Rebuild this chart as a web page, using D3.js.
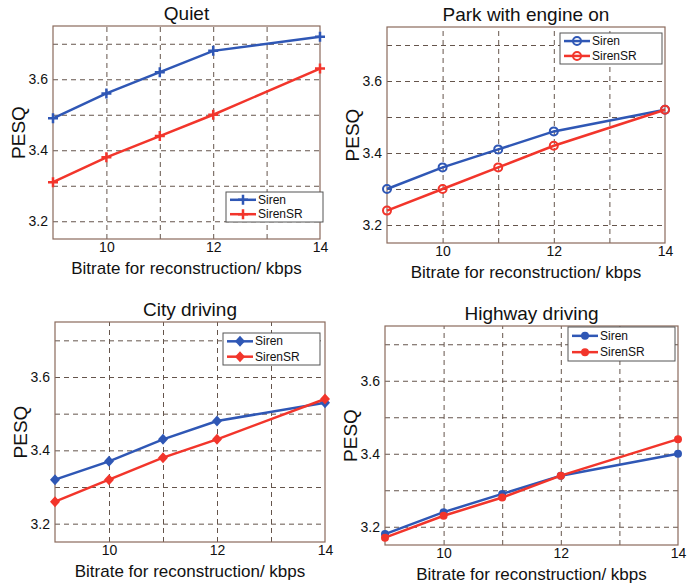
<!DOCTYPE html>
<html>
<head>
<meta charset="utf-8">
<script src="https://cdn.jsdelivr.net/npm/d3@7"></script>
<style>
  body { margin: 0; background: #fff; }
  text { font-family: "Liberation Sans", Arial, sans-serif; fill: #111; }
</style>
</head>
<body>
<script>
// datos
const bitrates = [9, 10, 11, 12, 14];
const seriesNames = ["Siren", "SirenSR"];
const titles = ["Quiet", "Park with engine on", "City driving", "Highway driving"];

const quietSiren = [3.49, 3.56, 3.62, 3.68, 3.72];
const quietSirenSR = [3.31, 3.38, 3.44, 3.50, 3.63];
const parkSiren = [3.30, 3.36, 3.41, 3.46, 3.52];
const parkSirenSR = [3.24, 3.30, 3.36, 3.42, 3.52];
const citySiren = [3.32, 3.37, 3.43, 3.48, 3.53];
const citySirenSR = [3.26, 3.32, 3.38, 3.43, 3.54];
const highwaySiren = [3.18, 3.24, 3.29, 3.34, 3.40];
const highwaySirenSR = [3.17, 3.23, 3.28, 3.34, 3.44];

const xTicks = [10, 12, 14];
const xGrid = [10, 11, 12, 13];
const yTicks = [3.2, 3.4, 3.6];
const yGrid = [3.2, 3.3, 3.4, 3.5, 3.6, 3.7];

const WIDTH = 691;
const HEIGHT = 583;
const colores = ["#2f57b5", "#f2352b"];
const frameColor = "#8a6a5c";
const gridColor = "#65554c";

// cajas de cada panel (left, right, top, bottom) y su leyenda
const paneles = [
  { title: titles[0], values: [quietSiren, quietSirenSR], marker: "plus",
    box: [53, 320, 26, 239], legend: [226, 192, 97, 30] },
  { title: titles[1], values: [parkSiren, parkSirenSR], marker: "circle",
    box: [387, 665, 27, 243], legend: [560, 33, 102, 31] },
  { title: titles[2], values: [citySiren, citySirenSR], marker: "diamond",
    box: [55, 325, 322, 542], legend: [223, 333, 97, 32] },
  { title: titles[3], values: [highwaySiren, highwaySirenSR], marker: "dot",
    box: [385, 678, 326, 545], legend: [568, 327, 107, 34] }
];

const svg = d3.select("body")
  .append("svg")
  .attr("width", WIDTH)
  .attr("height", HEIGHT);

function dibujarMarcador(g, tipo, color) {
  if (tipo === "plus") {
    g.append("path").attr("d", "M-5,0H5M0,-5V5")
      .attr("stroke", color).attr("stroke-width", 2.5);
  } else if (tipo === "circle") {
    g.append("circle").attr("r", 4)
      .attr("fill", "none").attr("stroke", color).attr("stroke-width", 2);
  } else if (tipo === "diamond") {
    g.append("path").attr("d", "M0,-5.5L5,0L0,5.5L-5,0Z").attr("fill", color);
  } else {
    g.append("circle").attr("r", 4).attr("fill", color);
  }
}

paneles.forEach((p) => {
  const [l, r, t, b] = p.box;
  const w = r - l;
  const h = b - t;

  const escalaX = d3.scaleLinear().domain([9, 14]).range([0, w]);
  const escalaY = d3.scaleLinear().domain([3.15, 3.75]).range([h, 0]);

  const g = svg.append("g").attr("transform", `translate(${l},${t})`);

  // grilla punteada
  const gx = g.append("g")
    .attr("transform", `translate(0,${h})`)
    .call(d3.axisBottom(escalaX).tickValues(xGrid).tickSize(-h).tickFormat(""));
  const gy = g.append("g")
    .call(d3.axisLeft(escalaY).tickValues(yGrid).tickSize(-w).tickFormat(""));
  [gx, gy].forEach((sel) => {
    sel.select(".domain").remove();
    sel.selectAll("line")
      .attr("stroke", gridColor)
      .attr("stroke-width", 1)
      .attr("stroke-dasharray", "5,4");
  });

  // marco
  g.append("rect")
    .attr("width", w).attr("height", h)
    .attr("fill", "none").attr("stroke", frameColor).attr("stroke-width", 1.2);

  // ejes con etiquetas
  const ejeX = g.append("g")
    .attr("transform", `translate(0,${h})`)
    .call(d3.axisBottom(escalaX).tickValues(xTicks).tickSize(0).tickPadding(3).tickFormat(d3.format("d")));
  const ejeY = g.append("g")
    .call(d3.axisLeft(escalaY).tickValues(yTicks).tickSize(0).tickPadding(5).tickFormat(d3.format(".1f")));
  [ejeX, ejeY].forEach((sel) => {
    sel.select(".domain").remove();
    sel.selectAll("text")
      .style("font-family", "'Liberation Sans', Arial, sans-serif")
      .style("font-size", "14px")
      .attr("fill", "#111");
  });

  // lineas
  const linea = d3.line()
    .x((d, i) => escalaX(bitrates[i]))
    .y((d) => escalaY(d));

  p.values.forEach((serie, k) => {
    g.append("path")
      .datum(serie)
      .attr("d", linea)
      .attr("fill", "none")
      .attr("stroke", colores[k])
      .attr("stroke-width", 2.5);

    g.selectAll(null)
      .data(serie)
      .enter()
      .append("g")
      .attr("transform", (d, i) => `translate(${escalaX(bitrates[i])},${escalaY(d)})`)
      .each(function () { dibujarMarcador(d3.select(this), p.marker, colores[k]); });
  });

  // titulo
  svg.append("text")
    .attr("x", l + w / 2)
    .attr("y", t - 6)
    .attr("text-anchor", "middle")
    .style("font-size", "19px")
    .text(p.title);

  // etiqueta eje x
  svg.append("text")
    .attr("x", l + w / 2)
    .attr("y", b + 35)
    .attr("text-anchor", "middle")
    .style("font-size", "17px")
    .text("Bitrate for reconstruction/ kbps");

  // etiqueta eje y
  svg.append("text")
    .attr("transform", `translate(${l - 28},${t + h / 2}) rotate(-90)`)
    .attr("text-anchor", "middle")
    .style("font-size", "19px")
    .text("PESQ");

  // leyenda
  const [lx, ly, lw, lh] = p.legend;
  const leg = svg.append("g").attr("transform", `translate(${lx},${ly})`);
  leg.append("rect")
    .attr("width", lw).attr("height", lh)
    .attr("fill", "#fff").attr("stroke", "#555").attr("stroke-width", 1);
  seriesNames.forEach((nombre, k) => {
    const yy = lh * (k === 0 ? 0.26 : 0.74);
    leg.append("line")
      .attr("x1", 4).attr("x2", 30).attr("y1", yy).attr("y2", yy)
      .attr("stroke", colores[k]).attr("stroke-width", 2.5);
    const m = leg.append("g").attr("transform", `translate(17,${yy})`);
    dibujarMarcador(m, p.marker, colores[k]);
    leg.append("text")
      .attr("x", 32).attr("y", yy + 4)
      .style("font-size", "12px")
      .text(nombre);
  });
});
</script>
</body>
</html>
